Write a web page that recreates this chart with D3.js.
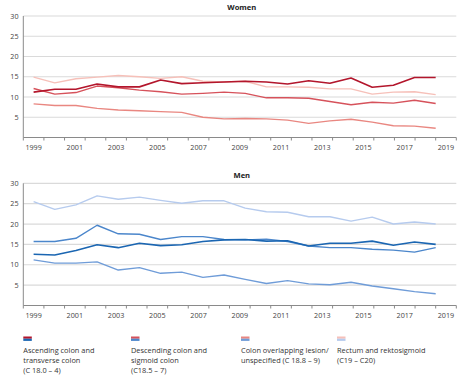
<!DOCTYPE html>
<html>
<head>
<meta charset="utf-8">
<script src="https://cdn.jsdelivr.net/npm/d3@7/dist/d3.min.js"></script>
<style>
  html, body { margin: 0; padding: 0; background: #fff; }
  svg { display: block; }
  text { font-family: "Open Sans", "Noto Sans", sans-serif; }
</style>
</head>
<body>
<svg id="chart" width="470" height="378"></svg>
<script>
// ---------- DATA ----------
const axisYears = d3.range(1999, 2020);           // 1999 … 2019 (axis bands)
const dataYears = d3.range(1999, 2019);           // 20 data points
const yTicks = [5, 10, 15, 20, 25, 30];

const seriesNames = [
  "Ascending colon and transverse colon (C 18.0 – 4)",
  "Descending colon and sigmoid colon (C18.5 – 7)",
  "Colon overlapping lesion/ unspecified (C 18.8 – 9)",
  "Rectum and rektosigmoid (C19 – C20)"
];

const womenAscending  = [11.2, 11.9, 11.9, 13.2, 12.5, 12.5, 14.2, 13.3, 13.5, 13.7, 13.9, 13.7, 13.2, 14.0, 13.4, 14.7, 12.4, 12.9, 14.8, 14.8];
const womenDescending = [12.1, 10.7, 11.1, 12.7, 12.3, 11.7, 11.3, 10.7, 10.9, 11.2, 10.9, 9.8, 9.8, 9.7, 8.9, 8.1, 8.7, 8.5, 9.2, 8.4];
const womenOverlap    = [8.3, 7.9, 7.9, 7.2, 6.8, 6.6, 6.4, 6.2, 5.0, 4.6, 4.7, 4.6, 4.3, 3.5, 4.1, 4.5, 3.8, 2.9, 2.8, 2.3];
const womenRectum     = [14.9, 13.5, 14.5, 14.9, 15.3, 15.0, 14.6, 15.0, 13.9, 13.7, 13.9, 12.5, 12.5, 12.4, 12.0, 12.0, 10.7, 11.2, 11.3, 10.6];

const menAscending  = [12.6, 12.4, 13.5, 14.9, 14.2, 15.3, 14.7, 14.9, 15.7, 16.1, 16.2, 15.8, 15.9, 14.6, 15.3, 15.3, 15.8, 14.8, 15.6, 15.0];
const menDescending = [15.7, 15.7, 16.5, 19.7, 17.6, 17.5, 16.2, 16.9, 16.9, 16.2, 16.1, 16.3, 15.7, 14.6, 14.2, 14.2, 13.8, 13.6, 13.1, 14.2];
const menOverlap    = [11.2, 10.4, 10.4, 10.7, 8.7, 9.3, 7.9, 8.2, 6.9, 7.5, 6.4, 5.4, 6.1, 5.3, 5.1, 5.7, 4.8, 4.1, 3.4, 2.9];
const menRectum     = [25.5, 23.6, 24.7, 26.9, 26.1, 26.6, 25.8, 25.1, 25.7, 25.7, 23.9, 23.0, 22.9, 21.8, 21.8, 20.7, 21.7, 20.0, 20.5, 20.0];

const womenColors = ["#b3162c", "#d6525b", "#e98781", "#f6c0b9"];
const menColors   = ["#1b66b2", "#4b86cb", "#6f9cd8", "#b6cbee"];

const legendLines = [
  ["Ascending colon and", "transverse colon", "(C 18.0 – 4)"],
  ["Descending colon and", "sigmoid colon", "(C18.5 – 7)"],
  ["Colon overlapping lesion/", "unspecified  (C 18.8 – 9)"],
  ["Rectum and rektosigmoid", "(C19 – C20)"]
];

// ---------- LAYOUT ----------
const svg = d3.select("#chart");
const left = 23.3, right = 456.3;

const xBand = d3.scaleBand().domain(axisYears).range([left, right]).padding(0);
const bw = xBand.bandwidth();
const xData = d3.scaleLinear()
  .domain([dataYears[0], dataYears[dataYears.length - 1]])
  .range([xBand(axisYears[0]) + bw / 2, xBand(axisYears[axisYears.length - 1])]);

const panels = [
  { title: "Women", top: 16, bottom: 137.5, series: [womenAscending, womenDescending, womenOverlap, womenRectum], colors: womenColors, titleY: 10 },
  { title: "Men",   top: 183.3, bottom: 305.5, series: [menAscending, menDescending, menOverlap, menRectum], colors: menColors, titleY: 178 }
];

panels.forEach(p => {
  const y = d3.scaleLinear().domain([0, 30]).range([p.bottom, p.top]);
  const g = svg.append("g");

  // gridlines
  g.selectAll("line.grid").data(yTicks).join("line")
    .attr("x1", left).attr("x2", right)
    .attr("y1", d => y(d)).attr("y2", d => y(d))
    .attr("stroke", "#dadada").attr("stroke-width", 1.2);

  // y labels
  g.selectAll("text.ylab").data(yTicks).join("text")
    .attr("x", 18.5).attr("y", d => y(d)).attr("dy", "0.35em")
    .attr("text-anchor", "end").attr("font-size", 7.2).attr("fill", "#444")
    .text(d => d);

  // y axis line
  g.append("line").attr("x1", left).attr("x2", left)
    .attr("y1", y(30)).attr("y2", y(0))
    .attr("stroke", "#8a8a8a").attr("stroke-width", 1);

  // x axis line
  g.append("line").attr("x1", left).attr("x2", right)
    .attr("y1", y(0)).attr("y2", y(0))
    .attr("stroke", "#8a8a8a").attr("stroke-width", 1);

  // x ticks at band boundaries
  const tickXs = axisYears.map(d => xBand(d)).concat([right]);
  g.selectAll("line.xt").data(tickXs).join("line")
    .attr("x1", d => d).attr("x2", d => d)
    .attr("y1", y(0)).attr("y2", y(0) + 3)
    .attr("stroke", "#8a8a8a").attr("stroke-width", 1);

  // x labels, odd years at band centers
  g.selectAll("text.xl").data(axisYears.filter(d => d % 2 === 1)).join("text")
    .attr("x", d => xBand(d) + bw / 2).attr("y", y(0) + 9.5).attr("dy", "0.35em")
    .attr("text-anchor", "middle").attr("font-size", 7.2).attr("fill", "#444")
    .text(d => d);

  // title
  g.append("text").attr("x", (left + right) / 2 + 2).attr("y", p.titleY)
    .attr("text-anchor", "middle").attr("font-size", 7.6).attr("font-weight", "bold")
    .attr("fill", "#222").text(p.title);

  // lines (draw lightest first)
  const line = d3.line().x((d, i) => xData(dataYears[i])).y(d => y(d));
  const order = [3, 2, 1, 0];
  order.forEach(k => {
    g.append("path").datum(p.series[k])
      .attr("d", line)
      .attr("fill", "none")
      .attr("stroke", p.colors[k])
      .attr("stroke-width", k === 0 ? 1.6 : 1.4)
      .attr("stroke-linejoin", "round");
  });
});

// ---------- LEGEND ----------
const legendX = [23.3, 131, 241, 337];
const lg = svg.append("g");
legendLines.forEach((lines, i) => {
  const gx = legendX[i];
  lg.append("rect").attr("x", gx).attr("y", 336.5).attr("width", 8.5).attr("height", 2.2)
    .attr("fill", womenColors[i]);
  lg.append("rect").attr("x", gx).attr("y", 338.7).attr("width", 8.5).attr("height", 2.2)
    .attr("fill", menColors[i]);
  lines.forEach((t, j) => {
    lg.append("text").attr("x", gx).attr("y", 353 + j * 10)
      .attr("font-size", 7.4).attr("fill", "#333").text(t);
  });
});
</script>
</body>
</html>
